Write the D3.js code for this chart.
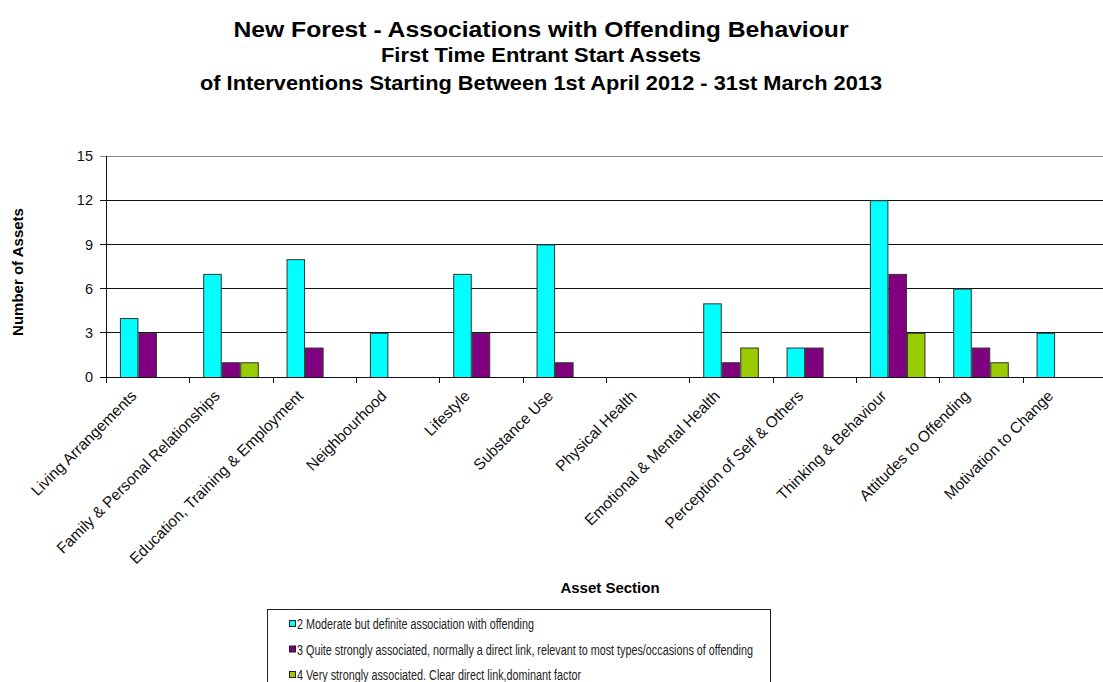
<!DOCTYPE html>
<html>
<head>
<meta charset="utf-8">
<script src="https://cdn.jsdelivr.net/npm/d3@7"></script>
<style>
  body { margin: 0; background: #fff; }
  text { font-family: "Liberation Sans", Arial, sans-serif; }
</style>
</head>
<body>
<svg id="chart" width="1103" height="682"></svg>
<script>
const categories = [
    "Living Arrangements",
    "Family & Personal Relationships",
    "Education, Training & Employment",
    "Neighbourhood",
    "Lifestyle",
    "Substance Use",
    "Physical Health",
    "Emotional & Mental Health",
    "Perception of Self & Others",
    "Thinking & Behaviour",
    "Attitudes to Offending",
    "Motivation to Change",
];
const seriesNames = [
    "2 Moderate but definite association with offending",
    "3 Quite strongly associated, normally a direct link, relevant to most types/occasions of offending",
    "4 Very strongly associated. Clear direct link,dominant factor",
];
const moderate = [4, 7, 8, 3, 7, 9, 0, 5, 2, 12, 6, 3];
const quiteStrong = [3, 1, 2, 0, 3, 1, 0, 1, 2, 7, 2, 0];
const veryStrong = [0, 1, 0, 0, 0, 0, 0, 2, 0, 3, 1, 0];
const yTicks = [0, 3, 6, 9, 12, 15];
const colors = ["#00ffff", "#800080", "#99cc00"];
const titleLines = [
    "New Forest - Associations with Offending Behaviour",
    "First Time Entrant Start Assets",
    "of Interventions Starting Between 1st April 2012 - 31st March 2013",
];

const seriesValues = [moderate, quiteStrong, veryStrong];
const data = categories.map((c, i) => ({
    cat: c,
    vals: seriesValues.map((s, j) => ({ key: j, value: s[i] })),
}));

const svg = d3.select("#chart");

// titles
const titleSpec = [
    { y: 37, size: 21.5, len: 615 },
    { y: 62, size: 19.5, len: 320 },
    { y: 90, size: 20.5, len: 682 },
];
svg.selectAll("text.title")
    .data(titleLines)
    .enter()
    .append("text")
    .attr("class", "title")
    .attr("x", 541)
    .attr("y", (d, i) => titleSpec[i].y)
    .attr("text-anchor", "middle")
    .attr("font-weight", "bold")
    .attr("font-size", (d, i) => titleSpec[i].size)
    .attr("textLength", (d, i) => titleSpec[i].len)
    .attr("lengthAdjust", "spacingAndGlyphs")
    .text((d) => d);

let x = d3.scaleBand().domain(categories).range([106, 1106]).padding(0);
let xs = d3
    .scaleBand()
    .domain([0, 1, 2])
    .range([x.bandwidth() / 6, (x.bandwidth() * 5) / 6]);
let y = d3.scaleLinear().domain([0, 15]).range([377, 156]);

// gridlines + y ticks
svg.append("g")
    .selectAll("line")
    .data(yTicks)
    .enter()
    .append("line")
    .attr("x1", 100)
    .attr("x2", 1106)
    .attr("y1", (d) => y(d))
    .attr("y2", (d) => y(d))
    .attr("stroke", (d) => (d === 15 ? "#888" : "#111"))
    .attr("stroke-width", 1)
    .attr("shape-rendering", "crispEdges");

svg.append("g")
    .selectAll("text")
    .data(yTicks)
    .enter()
    .append("text")
    .attr("x", 93)
    .attr("y", (d) => y(d))
    .attr("dy", "0.36em")
    .attr("text-anchor", "end")
    .attr("font-size", 14.5)
    .attr("fill", "#111")
    .text((d) => d);

// bars
const groups = svg
    .append("g")
    .selectAll("g")
    .data(data)
    .enter()
    .append("g")
    .attr("transform", (d) => `translate(${x(d.cat)},0)`);

groups
    .selectAll("rect")
    .data((d) => d.vals.filter((v) => v.value > 0))
    .enter()
    .append("rect")
    .attr("x", (d) => xs(d.key) + 0.5)
    .attr("y", (d) => y(d.value) + 0.5)
    .attr("width", xs.bandwidth() - 1)
    .attr("height", (d) => y(0) - y(d.value))
    .attr("fill", (d) => colors[d.key])
    .attr("stroke", "#333")
    .attr("stroke-width", 1);

// axes lines
svg.append("line")
    .attr("x1", 106.5).attr("x2", 106.5)
    .attr("y1", 156).attr("y2", 383)
    .attr("stroke", "#111");
svg.append("line")
    .attr("x1", 100).attr("x2", 1106)
    .attr("y1", 377.5).attr("y2", 377.5)
    .attr("stroke", "#111");

svg.append("g")
    .selectAll("line")
    .data(categories.slice(1))
    .enter()
    .append("line")
    .attr("x1", (d) => Math.round(x(d)) + 0.5)
    .attr("x2", (d) => Math.round(x(d)) + 0.5)
    .attr("y1", 377)
    .attr("y2", 383)
    .attr("stroke", "#111");

// category labels
svg.append("g")
    .selectAll("text")
    .data(categories)
    .enter()
    .append("text")
    .attr("transform", (d) => `translate(${x(d) + x.bandwidth() / 2 - 14},393) rotate(-45)`)
    .attr("text-anchor", "end")
    .attr("dy", "0.35em")
    .attr("font-size", 15.5)
    .attr("fill", "#111")
    .text((d) => d);

// axis titles
svg.append("text")
    .attr("transform", "translate(23,272) rotate(-90)")
    .attr("text-anchor", "middle")
    .attr("font-weight", "bold")
    .attr("font-size", 15)
    .text("Number of Assets");

svg.append("text")
    .attr("x", 610)
    .attr("y", 593)
    .attr("text-anchor", "middle")
    .attr("font-weight", "bold")
    .attr("font-size", 15)
    .text("Asset Section");

// legend
const legend = svg.append("g");
legend.append("rect")
    .attr("x", 267.5)
    .attr("y", 609.5)
    .attr("width", 503)
    .attr("height", 90)
    .attr("fill", "#fff")
    .attr("stroke", "#222");

const legendLen = [237, 456, 284];
const items = legend
    .selectAll("g")
    .data(seriesNames)
    .enter()
    .append("g")
    .attr("transform", (d, i) => `translate(289,${629 + i * 25.5})`);
items.append("rect")
    .attr("x", 0.5)
    .attr("y", -8.5)
    .attr("width", 6)
    .attr("height", 6)
    .attr("fill", (d, i) => colors[i])
    .attr("stroke", "#222");
items.append("text")
    .attr("x", 8)
    .attr("y", 0)
    .attr("font-size", 14)
    .attr("fill", "#222")
    .attr("textLength", (d, i) => legendLen[i])
    .attr("lengthAdjust", "spacingAndGlyphs")
    .text((d) => d);
</script>
</body>
</html>
